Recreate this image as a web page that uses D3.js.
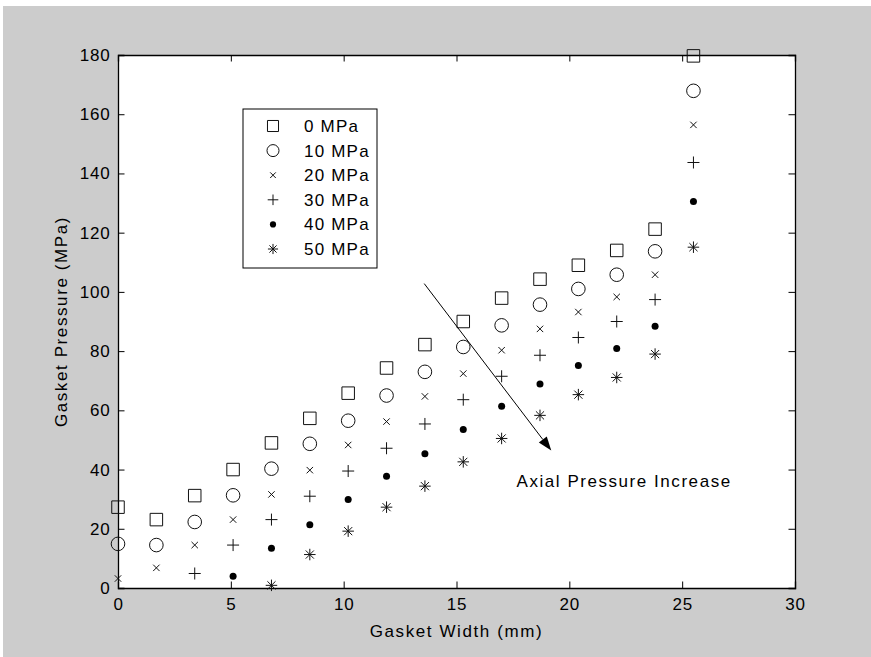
<!DOCTYPE html>
<html>
<head>
<meta charset="utf-8">
<script src="https://cdn.jsdelivr.net/npm/d3@7"></script>
<style>
  html, body { margin: 0; padding: 0; background: #ffffff; }
  svg { display: block; }
  text { font-family: "Liberation Sans", Arial, Helvetica, sans-serif; fill: #000; }
</style>
</head>
<body>
<svg id="chart" width="871" height="657"></svg>
<script>
// Gasket width (mm) at which each pressure was measured
const widths = [0, 1.7, 3.4, 5.1, 6.8, 8.5, 10.2, 11.9, 13.6, 15.3, 17.0, 18.7, 20.4, 22.1, 23.8, 25.5];

// Gasket pressure (MPa) for each axial pressure level
const p0  = [27.3, 23.1, 31.2, 40.0, 49.0, 57.3, 65.8, 74.3, 82.2, 90.0, 97.9, 104.3, 109.0, 114.0, 121.2, 179.7];
const p10 = [14.9, 14.5, 22.3, 31.3, 40.3, 48.7, 56.5, 65.0, 73.0, 81.4, 88.7, 95.7, 101.0, 105.8, 113.7, 167.9];
const p20 = [3.2, 6.8, 14.5, 23.1, 31.6, 39.8, 48.3, 56.2, 64.7, 72.4, 80.3, 87.5, 93.2, 98.3, 105.8, 156.4];
const p30 = [null, null, 4.9, 14.5, 23.1, 31.0, 39.5, 47.2, 55.4, 63.6, 71.5, 78.6, 84.6, 90.0, 97.4, 143.7];
const p40 = [null, null, null, 4.0, 13.4, 21.4, 29.9, 37.7, 45.3, 53.5, 61.4, 68.9, 75.1, 80.9, 88.4, 130.5];
const p50 = [null, null, null, null, 0.9, 11.3, 19.2, 27.3, 34.4, 42.6, 50.5, 58.3, 65.3, 71.1, 79.0, 115.1];

const seriesNames = ["0 MPa", "10 MPa", "20 MPa", "30 MPa", "40 MPa", "50 MPa"];
const seriesValues = [p0, p10, p20, p30, p40, p50];

const xTicks = [0, 5, 10, 15, 20, 25, 30];
const yTicks = [0, 20, 40, 60, 80, 100, 120, 140, 160, 180];

// Arrow annotation (data coordinates) and its caption
const arrowFrom = [13.57, 102.8];
const arrowTo = [19.2, 46.4];
const noteText = "Axial Pressure Increase";
const notePos = [17.66, 36];

const W = 871, H = 657;
const plot = { left: 118, right: 795, top: 55, bottom: 588 };

const svg = d3.select("#chart");

// figure background
svg.append("rect").attr("x", 3).attr("y", 6).attr("width", W - 3).attr("height", H - 6).attr("fill", "#cccccc");
svg.append("rect")
  .attr("x", plot.left).attr("y", plot.top)
  .attr("width", plot.right - plot.left).attr("height", plot.bottom - plot.top)
  .attr("fill", "#ffffff");

const x = d3.scaleLinear().domain([0, 30]).range([plot.left, plot.right]);
const y = d3.scaleLinear().domain([0, 180]).range([plot.bottom, plot.top]);

// marker shapes
const lineSym = (segs) => ({
  draw(ctx, size) {
    const r = Math.sqrt(size) / 2;
    segs.forEach(([a, b, c, d]) => { ctx.moveTo(a * r, b * r); ctx.lineTo(c * r, d * r); });
  }
});
const k = Math.SQRT1_2;
const symX = lineSym([[-1, -1, 1, 1], [-1, 1, 1, -1]]);
const symPlus = lineSym([[-1, 0, 1, 0], [0, -1, 0, 1]]);
const symStar = lineSym([[-1, 0, 1, 0], [0, -1, 0, 1], [-k, -k, k, k], [-k, k, k, -k]]);
const symSquare = {
  draw(ctx, size) { const r = Math.sqrt(size) / 2; ctx.rect(-r, -r, 2 * r, 2 * r); }
};
const symCircle = {
  draw(ctx, size) { const r = Math.sqrt(size) / 2; ctx.moveTo(r, 0); ctx.arc(0, 0, r, 0, 2 * Math.PI); }
};

const markers = [
  { type: symSquare, size: 12.5 * 12.5, fill: "none" },
  { type: symCircle, size: 13.6 * 13.6, fill: "none" },
  { type: symX, size: 6.4 * 6.4, fill: "none" },
  { type: symPlus, size: 12 * 12, fill: "none" },
  { type: symCircle, size: 7 * 7, fill: "#000" },
  { type: symStar, size: 11.5 * 11.5, fill: "none" }
];

const drawMarker = (g, m) => g.append("path")
  .attr("d", d3.symbol().type(m.type).size(m.size)())
  .attr("fill", m.fill)
  .attr("stroke", m.fill === "none" ? "#111" : "none")
  .attr("stroke-width", 1);

// axes box with inward ticks on all four sides
const axisG = svg.append("g");
const tickLen = 6.5;
axisG.append("g").attr("transform", `translate(0,${plot.bottom})`)
  .call(d3.axisBottom(x).tickValues(xTicks).tickSize(-tickLen).tickPadding(9.5).tickFormat(d3.format("d")));
axisG.append("g").attr("transform", `translate(0,${plot.top})`)
  .call(d3.axisTop(x).tickValues(xTicks).tickSize(-tickLen).tickFormat(""));
axisG.append("g").attr("transform", `translate(${plot.left},0)`)
  .call(d3.axisLeft(y).tickValues(yTicks).tickSize(-tickLen).tickPadding(7.5).tickFormat(d3.format("d")));
axisG.append("g").attr("transform", `translate(${plot.right},0)`)
  .call(d3.axisRight(y).tickValues(yTicks).tickSize(-tickLen).tickFormat(""));
axisG.selectAll(".domain").attr("stroke", "#000").attr("stroke-width", 1.3);
axisG.selectAll(".tick line").attr("stroke", "#000").attr("stroke-width", 1);
axisG.selectAll(".tick text")
  .attr("font-size", 17).attr("letter-spacing", 0.8)
  .style("font-family", '"Liberation Sans", Arial, sans-serif');

// axis titles
svg.append("text")
  .attr("x", (plot.left + plot.right) / 2).attr("y", 637)
  .attr("text-anchor", "middle").attr("font-size", 17).attr("letter-spacing", 1.6)
  .text("Gasket Width (mm)");
svg.append("text")
  .attr("transform", `translate(67,${(plot.top + plot.bottom) / 2}) rotate(-90)`)
  .attr("text-anchor", "middle").attr("font-size", 17).attr("letter-spacing", 1.6)
  .text("Gasket Pressure (MPa)");

// data markers
seriesValues.forEach((vals, si) => {
  const g = svg.append("g");
  vals.forEach((v, i) => {
    if (v === null) return;
    drawMarker(g, markers[si]).attr("transform", `translate(${x(widths[i])},${y(v)})`);
  });
});

// arrow annotation
const ax0 = x(arrowFrom[0]), ay0 = y(arrowFrom[1]);
const ax1 = x(arrowTo[0]), ay1 = y(arrowTo[1]);
const ang = Math.atan2(ay1 - ay0, ax1 - ax0);
const headLen = 14, headHalf = 5;
const bx = ax1 - headLen * Math.cos(ang), by = ay1 - headLen * Math.sin(ang);
svg.append("line")
  .attr("x1", ax0).attr("y1", ay0).attr("x2", bx).attr("y2", by)
  .attr("stroke", "#000").attr("stroke-width", 1);
svg.append("path")
  .attr("d", `M${ax1},${ay1}L${bx + headHalf * Math.sin(ang)},${by - headHalf * Math.cos(ang)}L${bx - headHalf * Math.sin(ang)},${by + headHalf * Math.cos(ang)}Z`)
  .attr("fill", "#000");
svg.append("text")
  .attr("x", x(notePos[0])).attr("y", y(notePos[1]) + 6)
  .attr("font-size", 17).attr("letter-spacing", 1.55)
  .text(noteText);

// legend
const leg = { x: 243, y: 109, w: 134, h: 159, row: 24.6, first: 126 };
svg.append("rect")
  .attr("x", leg.x).attr("y", leg.y).attr("width", leg.w).attr("height", leg.h)
  .attr("fill", "#fff").attr("stroke", "#000").attr("stroke-width", 1);
seriesNames.forEach((name, i) => {
  const cy = leg.first + i * leg.row;
  const lm = Object.assign({}, markers[i], { size: markers[i].size * 0.78 });
  drawMarker(svg, lm).attr("transform", `translate(273,${cy})`);
  svg.append("text")
    .attr("x", 304).attr("y", cy + 6)
    .attr("font-size", 17).attr("letter-spacing", 1.2)
    .text(name);
});
</script>
</body>
</html>
